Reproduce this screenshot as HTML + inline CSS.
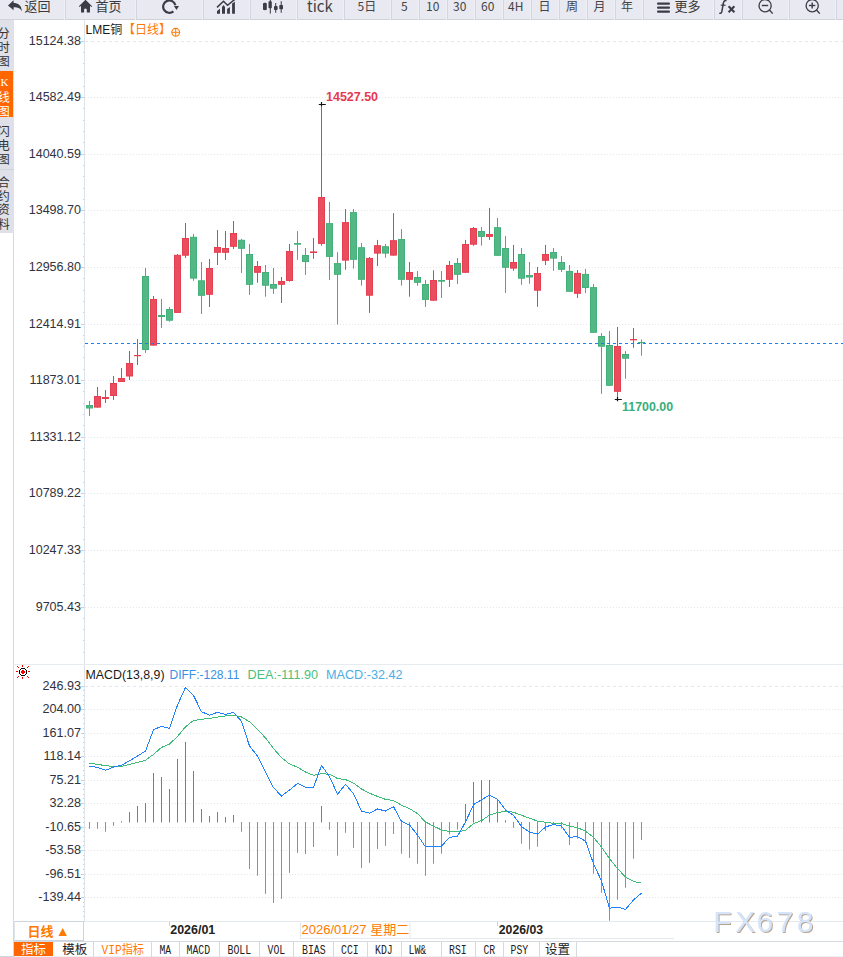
<!DOCTYPE html>
<html><head><meta charset="utf-8"><title>LME铜 日线</title>
<style>html,body{margin:0;padding:0;background:#fff;}body{width:843px;height:957px;position:relative;overflow:hidden;}</style>
</head><body>
<svg width="843" height="957" viewBox="0 0 843 957" style="position:absolute;left:0;top:0">
<rect x="0" y="0" width="843" height="20" fill="#eff0f5"/>
<rect x="0" y="0" width="64" height="20" fill="#e8e9f1"/>
<rect x="0" y="19" width="64" height="1" fill="#cfd2db"/>
<rect x="65" y="0" width="70" height="20" fill="#e8e9f1"/>
<rect x="65" y="0" width="1" height="20" fill="#d4d6df"/>
<rect x="65" y="19" width="70" height="1" fill="#cfd2db"/>
<rect x="136" y="0" width="66" height="20" fill="#e8e9f1"/>
<rect x="136" y="0" width="1" height="20" fill="#d4d6df"/>
<rect x="136" y="19" width="66" height="1" fill="#cfd2db"/>
<rect x="203" y="0" width="46" height="20" fill="#e8e9f1"/>
<rect x="203" y="0" width="1" height="20" fill="#d4d6df"/>
<rect x="203" y="19" width="46" height="1" fill="#cfd2db"/>
<rect x="250" y="0" width="46" height="20" fill="#e8e9f1"/>
<rect x="250" y="0" width="1" height="20" fill="#d4d6df"/>
<rect x="250" y="19" width="46" height="1" fill="#cfd2db"/>
<rect x="297" y="0" width="46" height="20" fill="#e8e9f1"/>
<rect x="297" y="0" width="1" height="20" fill="#d4d6df"/>
<rect x="297" y="19" width="46" height="1" fill="#cfd2db"/>
<rect x="344" y="0" width="46" height="20" fill="#e8e9f1"/>
<rect x="344" y="0" width="1" height="20" fill="#d4d6df"/>
<rect x="344" y="19" width="46" height="1" fill="#cfd2db"/>
<rect x="391" y="0" width="27" height="20" fill="#e8e9f1"/>
<rect x="391" y="0" width="1" height="20" fill="#d4d6df"/>
<rect x="391" y="19" width="27" height="1" fill="#cfd2db"/>
<rect x="419" y="0" width="27" height="20" fill="#e8e9f1"/>
<rect x="419" y="0" width="1" height="20" fill="#d4d6df"/>
<rect x="419" y="19" width="27" height="1" fill="#cfd2db"/>
<rect x="447" y="0" width="27" height="20" fill="#e8e9f1"/>
<rect x="447" y="0" width="1" height="20" fill="#d4d6df"/>
<rect x="447" y="19" width="27" height="1" fill="#cfd2db"/>
<rect x="475" y="0" width="27" height="20" fill="#e8e9f1"/>
<rect x="475" y="0" width="1" height="20" fill="#d4d6df"/>
<rect x="475" y="19" width="27" height="1" fill="#cfd2db"/>
<rect x="503" y="0" width="27" height="20" fill="#e8e9f1"/>
<rect x="503" y="0" width="1" height="20" fill="#d4d6df"/>
<rect x="503" y="19" width="27" height="1" fill="#cfd2db"/>
<rect x="531" y="0" width="27" height="20" fill="#e8e9f1"/>
<rect x="531" y="0" width="1" height="20" fill="#d4d6df"/>
<rect x="531" y="19" width="27" height="1" fill="#cfd2db"/>
<rect x="559" y="0" width="27" height="20" fill="#e8e9f1"/>
<rect x="559" y="0" width="1" height="20" fill="#d4d6df"/>
<rect x="559" y="19" width="27" height="1" fill="#cfd2db"/>
<rect x="587" y="0" width="27" height="20" fill="#e8e9f1"/>
<rect x="587" y="0" width="1" height="20" fill="#d4d6df"/>
<rect x="587" y="19" width="27" height="1" fill="#cfd2db"/>
<rect x="615" y="0" width="27" height="20" fill="#e8e9f1"/>
<rect x="615" y="0" width="1" height="20" fill="#d4d6df"/>
<rect x="615" y="19" width="27" height="1" fill="#cfd2db"/>
<rect x="643" y="0" width="70" height="20" fill="#e8e9f1"/>
<rect x="643" y="0" width="1" height="20" fill="#d4d6df"/>
<rect x="643" y="19" width="70" height="1" fill="#cfd2db"/>
<rect x="714" y="0" width="27" height="20" fill="#e8e9f1"/>
<rect x="714" y="0" width="1" height="20" fill="#d4d6df"/>
<rect x="714" y="19" width="27" height="1" fill="#cfd2db"/>
<rect x="742" y="0" width="46" height="20" fill="#e8e9f1"/>
<rect x="742" y="0" width="1" height="20" fill="#d4d6df"/>
<rect x="742" y="19" width="46" height="1" fill="#cfd2db"/>
<rect x="789" y="0" width="46" height="20" fill="#e8e9f1"/>
<rect x="789" y="0" width="1" height="20" fill="#d4d6df"/>
<rect x="789" y="19" width="46" height="1" fill="#cfd2db"/>
<rect x="836" y="0" width="63" height="20" fill="#e8e9f1"/>
<rect x="836" y="0" width="1" height="20" fill="#d4d6df"/>
<rect x="836" y="19" width="63" height="1" fill="#cfd2db"/>
<path d="M8 5.4 L13.6 0.2 L13.6 3.1 C17.8 3.1 21.9 5.2 21.8 11.8 C20.6 8.4 18.4 7.3 13.6 7.3 L13.6 10.3 Z" fill="#3a3d45"/>
<path d="M85.5 -0.3 L78.9 6.3 L79.6 7 L81 5.8 L81 12.6 L84.1 12.6 L84.1 9.2 Q85.45 7.9 86.8 9.2 L86.8 12.6 L90 12.6 L90 5.8 L91.4 7 L92.1 6.3 Z" fill="#3a3d45"/>
<path d="M173.4 11.35 A6.2 6.2 0 1 1 175.4 5.2" fill="none" stroke="#3a3d45" stroke-width="2.2"/>
<path d="M173.9 5.9 L179 5.9 L176.5 9.9 Z" fill="#3a3d45"/>
<path d="M217 13.8 V11 L220 8.8 V13.8 Z M222 13.8 V7 L223.5 5 L225 7 V13.8 Z M227.1 13.8 V9 L229.9 7 V13.8 Z M232.1 13.8 V3.6 L234.9 1.8 V13.8 Z" fill="#3a3d45"/>
<path d="M217 7.4 L223.5 1.3 L227.5 5.3 L234.8 -0.6" fill="none" stroke="#3a3d45" stroke-width="1.5"/>
<rect x="264.5" y="2.6" width="1" height="7.6" fill="#3a3d45"/>
<rect x="263" y="3" width="3.8000000000000114" height="7" rx="0.7" fill="#3a3d45"/>
<rect x="269.8" y="-1" width="1" height="14.6" fill="#3a3d45"/>
<rect x="268.5" y="1.3" width="3.3000000000000114" height="7.000000000000001" rx="0.7" fill="#3a3d45"/>
<rect x="275.2" y="3" width="1" height="9.8" fill="#3a3d45"/>
<rect x="274" y="6" width="3.6000000000000227" height="4" rx="0.7" fill="#3a3d45"/>
<rect x="280.7" y="1.2" width="1" height="11.600000000000001" fill="#3a3d45"/>
<rect x="279.3" y="5" width="3.6999999999999886" height="4.300000000000001" rx="0.7" fill="#3a3d45"/>
<rect x="657" y="2.5" width="13" height="2.2" rx="1" fill="#3a3d45"/>
<rect x="657" y="6.5" width="13" height="2.2" rx="1" fill="#3a3d45"/>
<rect x="657" y="10.5" width="13" height="2.2" rx="1" fill="#3a3d45"/>
<path d="M726.6 0.6 C724.6 0.2 723.6 1.4 723.3 3.5 L721.9 11.3 C721.6 13 720.6 13.6 719.3 13.2" fill="none" stroke="#3a3d45" stroke-width="1.5"/>
<path d="M720.8 5.2 H725.6" stroke="#3a3d45" stroke-width="1.2"/>
<path d="M728.6 6.2 L734.4 12.2 M734.4 6.2 L728.6 12.2" stroke="#3a3d45" stroke-width="2"/>
<circle cx="765.1" cy="5.7" r="6.1" fill="none" stroke="#3a3d45" stroke-width="1.3"/>
<path d="M769.4 10 L772.7 13.6" stroke="#3a3d45" stroke-width="1.4"/>
<path d="M761.8000000000001 5.5 L768.2 5.5" stroke="#3a3d45" stroke-width="1.4"/>
<circle cx="812.2" cy="5.7" r="6.1" fill="none" stroke="#3a3d45" stroke-width="1.3"/>
<path d="M816.5 10 L819.8000000000001 13.6" stroke="#3a3d45" stroke-width="1.4"/>
<path d="M808.9000000000001 5.5 L815.3000000000001 5.5" stroke="#3a3d45" stroke-width="1.4"/>
<path d="M812.2 2.4 L812.2 8.6" stroke="#3a3d45" stroke-width="1.4"/>
<text x="24.5" y="11.3" font-family="'Noto Sans CJK SC', 'Liberation Sans', sans-serif" font-size="13" fill="#3a3a3a" text-anchor="start" font-weight="normal" >返回</text>
<text x="95.5" y="11.3" font-family="'Noto Sans CJK SC', 'Liberation Sans', sans-serif" font-size="13" fill="#3a3a3a" text-anchor="start" font-weight="normal" >首页</text>
<text x="307" y="11.7" font-family="'Noto Sans CJK SC', 'Liberation Sans', sans-serif" font-size="15" fill="#444" text-anchor="start" font-weight="normal" >tick</text>
<text x="357.5" y="10.8" font-family="'Noto Sans CJK SC', 'Liberation Sans', sans-serif" font-size="12" fill="#444" text-anchor="start" font-weight="normal" >5日</text>
<text x="401" y="10.8" font-family="'Noto Sans CJK SC', 'Liberation Sans', sans-serif" font-size="12" fill="#444" text-anchor="start" font-weight="normal" >5</text>
<text x="426" y="10.8" font-family="'Noto Sans CJK SC', 'Liberation Sans', sans-serif" font-size="12" fill="#444" text-anchor="start" font-weight="normal" >10</text>
<text x="453" y="10.8" font-family="'Noto Sans CJK SC', 'Liberation Sans', sans-serif" font-size="12" fill="#444" text-anchor="start" font-weight="normal" >30</text>
<text x="481" y="10.8" font-family="'Noto Sans CJK SC', 'Liberation Sans', sans-serif" font-size="12" fill="#444" text-anchor="start" font-weight="normal" >60</text>
<text x="508" y="10.8" font-family="'Noto Sans CJK SC', 'Liberation Sans', sans-serif" font-size="12" fill="#444" text-anchor="start" font-weight="normal" >4H</text>
<text x="538.5" y="11" font-family="'Noto Sans CJK SC', 'Liberation Sans', sans-serif" font-size="12" fill="#444" text-anchor="start" font-weight="normal" >日</text>
<text x="566" y="11" font-family="'Noto Sans CJK SC', 'Liberation Sans', sans-serif" font-size="12" fill="#444" text-anchor="start" font-weight="normal" >周</text>
<text x="593.5" y="11" font-family="'Noto Sans CJK SC', 'Liberation Sans', sans-serif" font-size="12" fill="#444" text-anchor="start" font-weight="normal" >月</text>
<text x="621" y="11" font-family="'Noto Sans CJK SC', 'Liberation Sans', sans-serif" font-size="12" fill="#444" text-anchor="start" font-weight="normal" >年</text>
<text x="674.5" y="11.3" font-family="'Noto Sans CJK SC', 'Liberation Sans', sans-serif" font-size="13" fill="#3a3a3a" text-anchor="start" font-weight="normal" >更多</text>
<rect x="0" y="20" width="14" height="213" fill="#dfe0e8"/>
<rect x="0" y="71" width="13" height="46" fill="#ff6600"/>
<rect x="0" y="169" width="14" height="1" fill="#cfd5de"/>
<rect x="13" y="233" width="1" height="724" fill="#d3d8e0"/>
<text x="-2.2" y="38" font-family="'Noto Sans CJK SC', 'Liberation Sans', sans-serif" font-size="12" fill="#333" text-anchor="start" font-weight="normal" >分</text>
<text x="-2.2" y="52" font-family="'Noto Sans CJK SC', 'Liberation Sans', sans-serif" font-size="12" fill="#333" text-anchor="start" font-weight="normal" >时</text>
<text x="-2.2" y="66" font-family="'Noto Sans CJK SC', 'Liberation Sans', sans-serif" font-size="12" fill="#333" text-anchor="start" font-weight="normal" >图</text>
<text x="-2.2" y="101.5" font-family="'Noto Sans CJK SC', 'Liberation Sans', sans-serif" font-size="12" fill="#fff" text-anchor="start" font-weight="normal" >线</text>
<text x="-2.2" y="115.5" font-family="'Noto Sans CJK SC', 'Liberation Sans', sans-serif" font-size="12" fill="#fff" text-anchor="start" font-weight="normal" >图</text>
<text x="-2.2" y="136" font-family="'Noto Sans CJK SC', 'Liberation Sans', sans-serif" font-size="12" fill="#333" text-anchor="start" font-weight="normal" >闪</text>
<text x="-2.2" y="150" font-family="'Noto Sans CJK SC', 'Liberation Sans', sans-serif" font-size="12" fill="#333" text-anchor="start" font-weight="normal" >电</text>
<text x="-2.2" y="164" font-family="'Noto Sans CJK SC', 'Liberation Sans', sans-serif" font-size="12" fill="#333" text-anchor="start" font-weight="normal" >图</text>
<text x="-2.2" y="187" font-family="'Noto Sans CJK SC', 'Liberation Sans', sans-serif" font-size="12" fill="#333" text-anchor="start" font-weight="normal" >合</text>
<text x="-2.2" y="200.5" font-family="'Noto Sans CJK SC', 'Liberation Sans', sans-serif" font-size="12" fill="#333" text-anchor="start" font-weight="normal" >约</text>
<text x="-2.2" y="214" font-family="'Noto Sans CJK SC', 'Liberation Sans', sans-serif" font-size="12" fill="#333" text-anchor="start" font-weight="normal" >资</text>
<text x="-2.2" y="228.5" font-family="'Noto Sans CJK SC', 'Liberation Sans', sans-serif" font-size="12" fill="#333" text-anchor="start" font-weight="normal" >料</text>
<text x="0.5" y="86" font-family="'Liberation Serif', serif" font-size="11" fill="#fff" text-anchor="start" font-weight="normal" >K</text>
<rect x="84" y="20" width="1" height="901" fill="#dde3ea"/>
<line x1="85" y1="41.5" x2="843" y2="41.5" stroke="#e3e8ee" stroke-width="1" stroke-dasharray="3 3"/>
<rect x="81" y="41" width="3" height="1" fill="#c9d0d9"/>
<text x="81" y="45" font-family="'Liberation Sans', 'Noto Sans CJK SC', sans-serif" font-size="12" fill="#2f3240" text-anchor="end" font-weight="normal"  textLength="52.3" lengthAdjust="spacingAndGlyphs">15124.38</text>
<line x1="85" y1="97.5" x2="843" y2="97.5" stroke="#e3e8ee" stroke-width="1" stroke-dasharray="1 2"/>
<rect x="81" y="97" width="3" height="1" fill="#c9d0d9"/>
<text x="81" y="101" font-family="'Liberation Sans', 'Noto Sans CJK SC', sans-serif" font-size="12" fill="#2f3240" text-anchor="end" font-weight="normal"  textLength="52.3" lengthAdjust="spacingAndGlyphs">14582.49</text>
<line x1="85" y1="154.5" x2="843" y2="154.5" stroke="#e3e8ee" stroke-width="1" stroke-dasharray="1 2"/>
<rect x="81" y="154" width="3" height="1" fill="#c9d0d9"/>
<text x="81" y="158" font-family="'Liberation Sans', 'Noto Sans CJK SC', sans-serif" font-size="12" fill="#2f3240" text-anchor="end" font-weight="normal"  textLength="52.3" lengthAdjust="spacingAndGlyphs">14040.59</text>
<line x1="85" y1="210.5" x2="843" y2="210.5" stroke="#e3e8ee" stroke-width="1" stroke-dasharray="1 2"/>
<rect x="81" y="210" width="3" height="1" fill="#c9d0d9"/>
<text x="81" y="214" font-family="'Liberation Sans', 'Noto Sans CJK SC', sans-serif" font-size="12" fill="#2f3240" text-anchor="end" font-weight="normal"  textLength="52.3" lengthAdjust="spacingAndGlyphs">13498.70</text>
<line x1="85" y1="267.5" x2="843" y2="267.5" stroke="#e3e8ee" stroke-width="1" stroke-dasharray="1 2"/>
<rect x="81" y="267" width="3" height="1" fill="#c9d0d9"/>
<text x="81" y="271" font-family="'Liberation Sans', 'Noto Sans CJK SC', sans-serif" font-size="12" fill="#2f3240" text-anchor="end" font-weight="normal"  textLength="52.3" lengthAdjust="spacingAndGlyphs">12956.80</text>
<line x1="85" y1="324.5" x2="843" y2="324.5" stroke="#e3e8ee" stroke-width="1" stroke-dasharray="1 2"/>
<rect x="81" y="324" width="3" height="1" fill="#c9d0d9"/>
<text x="81" y="328" font-family="'Liberation Sans', 'Noto Sans CJK SC', sans-serif" font-size="12" fill="#2f3240" text-anchor="end" font-weight="normal"  textLength="52.3" lengthAdjust="spacingAndGlyphs">12414.91</text>
<line x1="85" y1="380.5" x2="843" y2="380.5" stroke="#e3e8ee" stroke-width="1" stroke-dasharray="1 2"/>
<rect x="81" y="380" width="3" height="1" fill="#c9d0d9"/>
<text x="81" y="384" font-family="'Liberation Sans', 'Noto Sans CJK SC', sans-serif" font-size="12" fill="#2f3240" text-anchor="end" font-weight="normal"  textLength="51.37" lengthAdjust="spacingAndGlyphs">11873.01</text>
<line x1="85" y1="437.5" x2="843" y2="437.5" stroke="#e3e8ee" stroke-width="1" stroke-dasharray="1 2"/>
<rect x="81" y="437" width="3" height="1" fill="#c9d0d9"/>
<text x="81" y="441" font-family="'Liberation Sans', 'Noto Sans CJK SC', sans-serif" font-size="12" fill="#2f3240" text-anchor="end" font-weight="normal"  textLength="51.37" lengthAdjust="spacingAndGlyphs">11331.12</text>
<line x1="85" y1="493.5" x2="843" y2="493.5" stroke="#e3e8ee" stroke-width="1" stroke-dasharray="1 2"/>
<rect x="81" y="493" width="3" height="1" fill="#c9d0d9"/>
<text x="81" y="497" font-family="'Liberation Sans', 'Noto Sans CJK SC', sans-serif" font-size="12" fill="#2f3240" text-anchor="end" font-weight="normal"  textLength="52.3" lengthAdjust="spacingAndGlyphs">10789.22</text>
<line x1="85" y1="550.5" x2="843" y2="550.5" stroke="#e3e8ee" stroke-width="1" stroke-dasharray="1 2"/>
<rect x="81" y="550" width="3" height="1" fill="#c9d0d9"/>
<text x="81" y="554" font-family="'Liberation Sans', 'Noto Sans CJK SC', sans-serif" font-size="12" fill="#2f3240" text-anchor="end" font-weight="normal"  textLength="52.3" lengthAdjust="spacingAndGlyphs">10247.33</text>
<line x1="85" y1="607.5" x2="843" y2="607.5" stroke="#e3e8ee" stroke-width="1" stroke-dasharray="1 2"/>
<rect x="81" y="607" width="3" height="1" fill="#c9d0d9"/>
<text x="81" y="611" font-family="'Liberation Sans', 'Noto Sans CJK SC', sans-serif" font-size="12" fill="#2f3240" text-anchor="end" font-weight="normal"  textLength="45.33" lengthAdjust="spacingAndGlyphs">9705.43</text>
<rect x="83" y="52" width="1" height="1" fill="#c9d0d9"/>
<rect x="83" y="63" width="1" height="1" fill="#c9d0d9"/>
<rect x="83" y="74" width="1" height="1" fill="#c9d0d9"/>
<rect x="83" y="86" width="1" height="1" fill="#c9d0d9"/>
<rect x="83" y="108" width="1" height="1" fill="#c9d0d9"/>
<rect x="83" y="120" width="1" height="1" fill="#c9d0d9"/>
<rect x="83" y="131" width="1" height="1" fill="#c9d0d9"/>
<rect x="83" y="142" width="1" height="1" fill="#c9d0d9"/>
<rect x="83" y="165" width="1" height="1" fill="#c9d0d9"/>
<rect x="83" y="176" width="1" height="1" fill="#c9d0d9"/>
<rect x="83" y="188" width="1" height="1" fill="#c9d0d9"/>
<rect x="83" y="199" width="1" height="1" fill="#c9d0d9"/>
<rect x="83" y="222" width="1" height="1" fill="#c9d0d9"/>
<rect x="83" y="233" width="1" height="1" fill="#c9d0d9"/>
<rect x="83" y="244" width="1" height="1" fill="#c9d0d9"/>
<rect x="83" y="256" width="1" height="1" fill="#c9d0d9"/>
<rect x="83" y="278" width="1" height="1" fill="#c9d0d9"/>
<rect x="83" y="290" width="1" height="1" fill="#c9d0d9"/>
<rect x="83" y="301" width="1" height="1" fill="#c9d0d9"/>
<rect x="83" y="312" width="1" height="1" fill="#c9d0d9"/>
<rect x="83" y="335" width="1" height="1" fill="#c9d0d9"/>
<rect x="83" y="346" width="1" height="1" fill="#c9d0d9"/>
<rect x="83" y="357" width="1" height="1" fill="#c9d0d9"/>
<rect x="83" y="369" width="1" height="1" fill="#c9d0d9"/>
<rect x="83" y="391" width="1" height="1" fill="#c9d0d9"/>
<rect x="83" y="403" width="1" height="1" fill="#c9d0d9"/>
<rect x="83" y="414" width="1" height="1" fill="#c9d0d9"/>
<rect x="83" y="425" width="1" height="1" fill="#c9d0d9"/>
<rect x="83" y="448" width="1" height="1" fill="#c9d0d9"/>
<rect x="83" y="459" width="1" height="1" fill="#c9d0d9"/>
<rect x="83" y="471" width="1" height="1" fill="#c9d0d9"/>
<rect x="83" y="482" width="1" height="1" fill="#c9d0d9"/>
<rect x="83" y="505" width="1" height="1" fill="#c9d0d9"/>
<rect x="83" y="516" width="1" height="1" fill="#c9d0d9"/>
<rect x="83" y="527" width="1" height="1" fill="#c9d0d9"/>
<rect x="83" y="539" width="1" height="1" fill="#c9d0d9"/>
<rect x="83" y="561" width="1" height="1" fill="#c9d0d9"/>
<rect x="83" y="573" width="1" height="1" fill="#c9d0d9"/>
<rect x="83" y="584" width="1" height="1" fill="#c9d0d9"/>
<rect x="83" y="595" width="1" height="1" fill="#c9d0d9"/>
<rect x="83" y="618" width="1" height="1" fill="#c9d0d9"/>
<rect x="83" y="629" width="1" height="1" fill="#c9d0d9"/>
<rect x="83" y="640" width="1" height="1" fill="#c9d0d9"/>
<rect x="83" y="652" width="1" height="1" fill="#c9d0d9"/>
<text x="85.5" y="34.3" font-family="'Liberation Sans', 'Noto Sans CJK SC', sans-serif" font-size="12" fill="#1a1a1a" text-anchor="start" font-weight="normal" >LME铜</text>
<text x="123" y="34.3" font-family="'Noto Sans CJK SC', 'Liberation Sans', sans-serif" font-size="12" fill="#ff7a00" text-anchor="start" font-weight="normal" >【日线】</text>
<circle cx="175.7" cy="32.3" r="3.9" fill="none" stroke="#ff7a00" stroke-width="1.1"/>
<path d="M171.8 32.3 H179.6 M175.7 28.4 V36.2" stroke="#ff7a00" stroke-width="1"/>
<rect x="89" y="401" width="1" height="15" fill="#44b079"/>
<rect x="86.5" y="405.5" width="6" height="2.5" fill="#54b886" stroke="#44b079" stroke-width="1"/>
<rect x="97" y="387" width="1" height="20.600000000000023" fill="#e53f52"/>
<rect x="94.5" y="396.5" width="6" height="10.600000000000023" fill="#ea4d5e" stroke="#e53f52" stroke-width="1"/>
<rect x="105" y="390" width="1" height="13" fill="#e53f52"/>
<rect x="102" y="397" width="7" height="2" fill="#e53f52"/>
<rect x="113" y="376" width="1" height="24" fill="#e53f52"/>
<rect x="110.5" y="383.5" width="6" height="12" fill="#ea4d5e" stroke="#e53f52" stroke-width="1"/>
<rect x="121" y="368" width="1" height="14" fill="#e53f52"/>
<rect x="118.5" y="378.5" width="6" height="3" fill="#ea4d5e" stroke="#e53f52" stroke-width="1"/>
<rect x="129" y="351" width="1" height="29" fill="#e53f52"/>
<rect x="126.5" y="363.5" width="6" height="12.5" fill="#ea4d5e" stroke="#e53f52" stroke-width="1"/>
<rect x="137" y="339" width="1" height="26" fill="#e53f52"/>
<rect x="134" y="355" width="7" height="1.2" fill="#e53f52"/>
<rect x="145" y="268" width="1" height="85" fill="#44b079"/>
<rect x="142.5" y="276.5" width="6" height="73" fill="#54b886" stroke="#44b079" stroke-width="1"/>
<rect x="153" y="296" width="1" height="49.60000000000002" fill="#e53f52"/>
<rect x="150.5" y="299.5" width="6" height="45.60000000000002" fill="#ea4d5e" stroke="#e53f52" stroke-width="1"/>
<rect x="161" y="299" width="1" height="29" fill="#44b079"/>
<rect x="158" y="315" width="7" height="2" fill="#44b079"/>
<rect x="169" y="307" width="1" height="14.699999999999989" fill="#44b079"/>
<rect x="166.5" y="309.5" width="6" height="10.699999999999989" fill="#54b886" stroke="#44b079" stroke-width="1"/>
<rect x="177" y="254" width="1" height="58.89999999999998" fill="#e53f52"/>
<rect x="174.5" y="255.3" width="6" height="57.099999999999966" fill="#ea4d5e" stroke="#e53f52" stroke-width="1"/>
<rect x="185" y="223" width="1" height="35" fill="#e53f52"/>
<rect x="182.5" y="238.5" width="6" height="16.69999999999999" fill="#ea4d5e" stroke="#e53f52" stroke-width="1"/>
<rect x="193" y="234" width="1" height="46.80000000000001" fill="#44b079"/>
<rect x="190.5" y="237.3" width="6" height="40.80000000000001" fill="#54b886" stroke="#44b079" stroke-width="1"/>
<rect x="201" y="262" width="1" height="51.89999999999998" fill="#44b079"/>
<rect x="198.5" y="280.8" width="6" height="14.5" fill="#54b886" stroke="#44b079" stroke-width="1"/>
<rect x="209" y="259" width="1" height="48" fill="#e53f52"/>
<rect x="206.5" y="268.5" width="6" height="25.80000000000001" fill="#ea4d5e" stroke="#e53f52" stroke-width="1"/>
<rect x="217" y="230" width="1" height="35" fill="#e53f52"/>
<rect x="214.5" y="247.5" width="6" height="4.800000000000011" fill="#ea4d5e" stroke="#e53f52" stroke-width="1"/>
<rect x="225" y="231" width="1" height="29" fill="#e53f52"/>
<rect x="222.5" y="248.5" width="6" height="3.8000000000000114" fill="#ea4d5e" stroke="#e53f52" stroke-width="1"/>
<rect x="233" y="221" width="1" height="28" fill="#e53f52"/>
<rect x="230.5" y="233.5" width="6" height="12.800000000000011" fill="#ea4d5e" stroke="#e53f52" stroke-width="1"/>
<rect x="241" y="238.8" width="1" height="34.19999999999999" fill="#44b079"/>
<rect x="238.5" y="240.3" width="6" height="8.0" fill="#54b886" stroke="#44b079" stroke-width="1"/>
<rect x="249" y="244" width="1" height="50.89999999999998" fill="#44b079"/>
<rect x="246.5" y="254.5" width="6" height="29.80000000000001" fill="#54b886" stroke="#44b079" stroke-width="1"/>
<rect x="257" y="261" width="1" height="21.80000000000001" fill="#e53f52"/>
<rect x="254.5" y="266.5" width="6" height="5.800000000000011" fill="#ea4d5e" stroke="#e53f52" stroke-width="1"/>
<rect x="265" y="265" width="1" height="31.69999999999999" fill="#44b079"/>
<rect x="262.5" y="272.5" width="6" height="12.699999999999989" fill="#54b886" stroke="#44b079" stroke-width="1"/>
<rect x="273" y="268" width="1" height="25.899999999999977" fill="#44b079"/>
<rect x="270.5" y="284.5" width="6" height="3.6999999999999886" fill="#54b886" stroke="#44b079" stroke-width="1"/>
<rect x="281" y="277" width="1" height="26" fill="#e53f52"/>
<rect x="278.5" y="281.5" width="6" height="2.8000000000000114" fill="#ea4d5e" stroke="#e53f52" stroke-width="1"/>
<rect x="289" y="244" width="1" height="37.69999999999999" fill="#e53f52"/>
<rect x="286.5" y="251.5" width="6" height="29" fill="#ea4d5e" stroke="#e53f52" stroke-width="1"/>
<rect x="297" y="231" width="1" height="28.80000000000001" fill="#44b079"/>
<rect x="294" y="243" width="7" height="1.6999999999999886" fill="#44b079"/>
<rect x="305" y="248" width="1" height="27" fill="#44b079"/>
<rect x="302.5" y="255.5" width="6" height="6" fill="#54b886" stroke="#44b079" stroke-width="1"/>
<rect x="313" y="238" width="1" height="20.80000000000001" fill="#e53f52"/>
<rect x="310" y="251.4" width="7" height="1.5999999999999943" fill="#e53f52"/>
<rect x="321" y="103" width="1" height="142.7" fill="#e53f52"/>
<rect x="318.5" y="197.5" width="6" height="45.900000000000006" fill="#ea4d5e" stroke="#e53f52" stroke-width="1"/>
<rect x="329" y="201.9" width="1" height="78.1" fill="#44b079"/>
<rect x="326.5" y="223.6" width="6" height="32.79999999999998" fill="#54b886" stroke="#44b079" stroke-width="1"/>
<rect x="337" y="252.2" width="1" height="72.40000000000003" fill="#44b079"/>
<rect x="334.5" y="263.6" width="6" height="10.699999999999989" fill="#54b886" stroke="#44b079" stroke-width="1"/>
<rect x="345" y="209" width="1" height="60.80000000000001" fill="#e53f52"/>
<rect x="342.5" y="222.6" width="6" height="37.50000000000003" fill="#ea4d5e" stroke="#e53f52" stroke-width="1"/>
<rect x="353" y="209" width="1" height="59.60000000000002" fill="#44b079"/>
<rect x="350.5" y="212.6" width="6" height="46.70000000000002" fill="#54b886" stroke="#44b079" stroke-width="1"/>
<rect x="361" y="243" width="1" height="42.69999999999999" fill="#44b079"/>
<rect x="358.5" y="247.7" width="6" height="31.600000000000023" fill="#54b886" stroke="#44b079" stroke-width="1"/>
<rect x="369" y="257" width="1" height="55.89999999999998" fill="#e53f52"/>
<rect x="366.5" y="258.4" width="6" height="36.80000000000001" fill="#ea4d5e" stroke="#e53f52" stroke-width="1"/>
<rect x="377" y="239.9" width="1" height="26.200000000000017" fill="#e53f52"/>
<rect x="374.5" y="245.7" width="6" height="7.400000000000006" fill="#ea4d5e" stroke="#e53f52" stroke-width="1"/>
<rect x="385" y="244" width="1" height="13.800000000000011" fill="#44b079"/>
<rect x="382.5" y="246.7" width="6" height="6.400000000000006" fill="#54b886" stroke="#44b079" stroke-width="1"/>
<rect x="393" y="213.1" width="1" height="42.5" fill="#e53f52"/>
<rect x="390.5" y="240.7" width="6" height="14.400000000000006" fill="#ea4d5e" stroke="#e53f52" stroke-width="1"/>
<rect x="401" y="229" width="1" height="56.69999999999999" fill="#44b079"/>
<rect x="398.5" y="239.5" width="6" height="39.80000000000001" fill="#54b886" stroke="#44b079" stroke-width="1"/>
<rect x="409" y="262" width="1" height="34.69999999999999" fill="#e53f52"/>
<rect x="406.5" y="272.5" width="6" height="6.800000000000011" fill="#ea4d5e" stroke="#e53f52" stroke-width="1"/>
<rect x="417" y="271" width="1" height="14.699999999999989" fill="#44b079"/>
<rect x="414.5" y="277.5" width="6" height="4.800000000000011" fill="#54b886" stroke="#44b079" stroke-width="1"/>
<rect x="425" y="280" width="1" height="27" fill="#44b079"/>
<rect x="422.5" y="284.5" width="6" height="14.899999999999977" fill="#54b886" stroke="#44b079" stroke-width="1"/>
<rect x="433" y="270.3" width="1" height="30.399999999999977" fill="#e53f52"/>
<rect x="430.5" y="280.5" width="6" height="19.69999999999999" fill="#ea4d5e" stroke="#e53f52" stroke-width="1"/>
<rect x="441" y="271" width="1" height="26.899999999999977" fill="#44b079"/>
<rect x="438" y="280" width="7" height="1.6999999999999886" fill="#44b079"/>
<rect x="449" y="261" width="1" height="26" fill="#e53f52"/>
<rect x="446.5" y="265.5" width="6" height="13.800000000000011" fill="#ea4d5e" stroke="#e53f52" stroke-width="1"/>
<rect x="457" y="258" width="1" height="26" fill="#44b079"/>
<rect x="454.5" y="263.5" width="6" height="10.800000000000011" fill="#54b886" stroke="#44b079" stroke-width="1"/>
<rect x="465" y="239.9" width="1" height="32.900000000000006" fill="#e53f52"/>
<rect x="462.5" y="244.5" width="6" height="27.80000000000001" fill="#ea4d5e" stroke="#e53f52" stroke-width="1"/>
<rect x="473" y="227" width="1" height="18.69999999999999" fill="#e53f52"/>
<rect x="470.5" y="228.5" width="6" height="15.699999999999989" fill="#ea4d5e" stroke="#e53f52" stroke-width="1"/>
<rect x="481" y="227" width="1" height="18.69999999999999" fill="#44b079"/>
<rect x="478.5" y="231.5" width="6" height="4.900000000000006" fill="#54b886" stroke="#44b079" stroke-width="1"/>
<rect x="489" y="207.9" width="1" height="32.0" fill="#e53f52"/>
<rect x="486.5" y="234.5" width="6" height="1.9000000000000057" fill="#ea4d5e" stroke="#e53f52" stroke-width="1"/>
<rect x="497" y="218" width="1" height="37.80000000000001" fill="#44b079"/>
<rect x="494.5" y="227.7" width="6" height="27.600000000000023" fill="#54b886" stroke="#44b079" stroke-width="1"/>
<rect x="505" y="236" width="1" height="56.89999999999998" fill="#44b079"/>
<rect x="502.5" y="248.5" width="6" height="18.80000000000001" fill="#54b886" stroke="#44b079" stroke-width="1"/>
<rect x="513" y="244.9" width="1" height="25.900000000000006" fill="#e53f52"/>
<rect x="510.5" y="262.5" width="6" height="5.600000000000023" fill="#ea4d5e" stroke="#e53f52" stroke-width="1"/>
<rect x="521" y="248" width="1" height="36.80000000000001" fill="#44b079"/>
<rect x="518.5" y="254.5" width="6" height="23.69999999999999" fill="#54b886" stroke="#44b079" stroke-width="1"/>
<rect x="529" y="262" width="1" height="21.69999999999999" fill="#44b079"/>
<rect x="526.5" y="275.5" width="6" height="1.5" fill="#54b886" stroke="#44b079" stroke-width="1"/>
<rect x="537" y="267" width="1" height="39.80000000000001" fill="#e53f52"/>
<rect x="534.5" y="273.5" width="6" height="16.69999999999999" fill="#ea4d5e" stroke="#e53f52" stroke-width="1"/>
<rect x="545" y="244.9" width="1" height="20.099999999999994" fill="#e53f52"/>
<rect x="542.5" y="254.5" width="6" height="5.800000000000011" fill="#ea4d5e" stroke="#e53f52" stroke-width="1"/>
<rect x="553" y="248" width="1" height="22.80000000000001" fill="#44b079"/>
<rect x="550.5" y="252.5" width="6" height="5.600000000000023" fill="#54b886" stroke="#44b079" stroke-width="1"/>
<rect x="561" y="256" width="1" height="16" fill="#44b079"/>
<rect x="558.5" y="262.5" width="6" height="6.800000000000011" fill="#54b886" stroke="#44b079" stroke-width="1"/>
<rect x="569" y="265" width="1" height="26.80000000000001" fill="#44b079"/>
<rect x="566.5" y="271.4" width="6" height="19.900000000000034" fill="#54b886" stroke="#44b079" stroke-width="1"/>
<rect x="577" y="270" width="1" height="28" fill="#e53f52"/>
<rect x="574.5" y="273.4" width="6" height="19.900000000000034" fill="#ea4d5e" stroke="#e53f52" stroke-width="1"/>
<rect x="585" y="268.9" width="1" height="24.100000000000023" fill="#44b079"/>
<rect x="582.5" y="274.4" width="6" height="13.100000000000023" fill="#54b886" stroke="#44b079" stroke-width="1"/>
<rect x="593" y="284" width="1" height="48.80000000000001" fill="#44b079"/>
<rect x="590.5" y="287.6" width="6" height="44.69999999999999" fill="#54b886" stroke="#44b079" stroke-width="1"/>
<rect x="601" y="333" width="1" height="60.80000000000001" fill="#44b079"/>
<rect x="598.5" y="336.5" width="6" height="9.699999999999989" fill="#54b886" stroke="#44b079" stroke-width="1"/>
<rect x="609" y="331" width="1" height="54.80000000000001" fill="#44b079"/>
<rect x="606.5" y="345.5" width="6" height="39.80000000000001" fill="#54b886" stroke="#44b079" stroke-width="1"/>
<rect x="617" y="327" width="1" height="71.5" fill="#e53f52"/>
<rect x="614.5" y="346.5" width="6" height="44.80000000000001" fill="#ea4d5e" stroke="#e53f52" stroke-width="1"/>
<rect x="625" y="351" width="1" height="27.80000000000001" fill="#44b079"/>
<rect x="622.5" y="354.5" width="6" height="3.6999999999999886" fill="#54b886" stroke="#44b079" stroke-width="1"/>
<rect x="633" y="328" width="1" height="19.80000000000001" fill="#e53f52"/>
<rect x="630" y="339" width="7" height="1.3000000000000114" fill="#e53f52"/>
<rect x="641" y="339.5" width="1" height="16.19999999999999" fill="#44b079"/>
<rect x="638" y="342" width="7" height="1.2" fill="#44b079"/>
<line x1="85" y1="343.5" x2="843" y2="343.5" stroke="#1a7ff5" stroke-width="1" stroke-dasharray="3 3"/>
<path d="M318.8 104.5 H325.8 M321.5 102 V106.2" stroke="#111" stroke-width="1.2"/>
<text x="326" y="101" font-family="'Liberation Sans', 'Noto Sans CJK SC', sans-serif" font-size="12" fill="#e8384f" text-anchor="start" font-weight="bold"  textLength="52.05" lengthAdjust="spacingAndGlyphs">14527.50</text>
<path d="M614.8 399.5 H621.8 M617.5 397 V401.2" stroke="#111" stroke-width="1.2"/>
<text x="622" y="410.8" font-family="'Liberation Sans', 'Noto Sans CJK SC', sans-serif" font-size="12" fill="#3aae7c" text-anchor="start" font-weight="bold"  textLength="51.11" lengthAdjust="spacingAndGlyphs">11700.00</text>
<rect x="13" y="664" width="830" height="1" fill="#e6ebf0"/>
<rect x="21" y="668" width="1" height="1" fill="#000"/>
<rect x="21" y="675" width="1" height="1" fill="#000"/>
<rect x="22" y="668" width="1" height="1" fill="#000"/>
<rect x="22" y="675" width="1" height="1" fill="#000"/>
<rect x="23" y="668" width="1" height="1" fill="#000"/>
<rect x="23" y="675" width="1" height="1" fill="#000"/>
<rect x="24" y="668" width="1" height="1" fill="#000"/>
<rect x="24" y="675" width="1" height="1" fill="#000"/>
<rect x="19" y="670" width="1" height="1" fill="#000"/>
<rect x="26" y="670" width="1" height="1" fill="#000"/>
<rect x="19" y="671" width="1" height="1" fill="#000"/>
<rect x="26" y="671" width="1" height="1" fill="#000"/>
<rect x="19" y="672" width="1" height="1" fill="#000"/>
<rect x="26" y="672" width="1" height="1" fill="#000"/>
<rect x="19" y="673" width="1" height="1" fill="#000"/>
<rect x="26" y="673" width="1" height="1" fill="#000"/>
<rect x="20" y="669" width="1" height="1" fill="#000"/>
<rect x="25" y="669" width="1" height="1" fill="#000"/>
<rect x="20" y="674" width="1" height="1" fill="#000"/>
<rect x="25" y="674" width="1" height="1" fill="#000"/>
<rect x="21" y="671" width="1" height="1" fill="#f00"/>
<rect x="21" y="672" width="1" height="1" fill="#f00"/>
<rect x="22" y="670" width="1" height="1" fill="#f00"/>
<rect x="22" y="671" width="1" height="1" fill="#f00"/>
<rect x="22" y="672" width="1" height="1" fill="#f00"/>
<rect x="22" y="673" width="1" height="1" fill="#f00"/>
<rect x="23" y="670" width="1" height="1" fill="#f00"/>
<rect x="23" y="671" width="1" height="1" fill="#f00"/>
<rect x="23" y="672" width="1" height="1" fill="#f00"/>
<rect x="23" y="673" width="1" height="1" fill="#f00"/>
<rect x="24" y="671" width="1" height="1" fill="#f00"/>
<rect x="24" y="672" width="1" height="1" fill="#f00"/>
<rect x="22" y="665" width="1" height="1" fill="#f00"/>
<rect x="22" y="666" width="1" height="1" fill="#f00"/>
<rect x="22" y="677" width="1" height="1" fill="#f00"/>
<rect x="22" y="678" width="1" height="1" fill="#f00"/>
<rect x="16" y="671" width="1" height="1" fill="#f00"/>
<rect x="17" y="671" width="1" height="1" fill="#f00"/>
<rect x="28" y="671" width="1" height="1" fill="#f00"/>
<rect x="29" y="671" width="1" height="1" fill="#f00"/>
<rect x="17" y="666" width="1" height="1" fill="#f00"/>
<rect x="18" y="667" width="1" height="1" fill="#f00"/>
<rect x="28" y="666" width="1" height="1" fill="#f00"/>
<rect x="27" y="667" width="1" height="1" fill="#f00"/>
<rect x="18" y="676" width="1" height="1" fill="#f00"/>
<rect x="17" y="677" width="1" height="1" fill="#f00"/>
<rect x="27" y="676" width="1" height="1" fill="#f00"/>
<rect x="28" y="677" width="1" height="1" fill="#f00"/>
<text x="85.5" y="679" font-family="'Liberation Sans', 'Noto Sans CJK SC', sans-serif" font-size="12" fill="#1a1a1a" text-anchor="start" font-weight="normal"  textLength="79" lengthAdjust="spacingAndGlyphs">MACD(13,8,9)</text>
<text x="169.5" y="679" font-family="'Liberation Sans', 'Noto Sans CJK SC', sans-serif" font-size="12" fill="#3a8ee6" text-anchor="start" font-weight="normal" >DIFF:-128.11</text>
<text x="247.5" y="679" font-family="'Liberation Sans', 'Noto Sans CJK SC', sans-serif" font-size="12" fill="#4cc07a" text-anchor="start" font-weight="normal"  textLength="70.5" lengthAdjust="spacingAndGlyphs">DEA:-111.90</text>
<text x="326" y="679" font-family="'Liberation Sans', 'Noto Sans CJK SC', sans-serif" font-size="12" fill="#4aaee6" text-anchor="start" font-weight="normal"  textLength="76.5" lengthAdjust="spacingAndGlyphs">MACD:-32.42</text>
<line x1="85" y1="686.5" x2="843" y2="686.5" stroke="#e3e8ee" stroke-width="1" stroke-dasharray="3 3"/>
<rect x="81" y="686" width="3" height="1" fill="#c9d0d9"/>
<text x="81" y="689.7" font-family="'Liberation Sans', 'Noto Sans CJK SC', sans-serif" font-size="12" fill="#2f3240" text-anchor="end" font-weight="normal"  textLength="38.54" lengthAdjust="spacingAndGlyphs">246.93</text>
<rect x="83" y="690" width="1" height="1" fill="#c9d0d9"/>
<rect x="83" y="695" width="1" height="1" fill="#c9d0d9"/>
<rect x="83" y="700" width="1" height="1" fill="#c9d0d9"/>
<rect x="83" y="704" width="1" height="1" fill="#c9d0d9"/>
<line x1="85" y1="709.5" x2="843" y2="709.5" stroke="#e3e8ee" stroke-width="1" stroke-dasharray="1 2"/>
<rect x="81" y="709" width="3" height="1" fill="#c9d0d9"/>
<text x="81" y="712.7" font-family="'Liberation Sans', 'Noto Sans CJK SC', sans-serif" font-size="12" fill="#2f3240" text-anchor="end" font-weight="normal"  textLength="38.54" lengthAdjust="spacingAndGlyphs">204.00</text>
<rect x="83" y="714" width="1" height="1" fill="#c9d0d9"/>
<rect x="83" y="718" width="1" height="1" fill="#c9d0d9"/>
<rect x="83" y="723" width="1" height="1" fill="#c9d0d9"/>
<rect x="83" y="728" width="1" height="1" fill="#c9d0d9"/>
<line x1="85" y1="733.5" x2="843" y2="733.5" stroke="#e3e8ee" stroke-width="1" stroke-dasharray="1 2"/>
<rect x="81" y="733" width="3" height="1" fill="#c9d0d9"/>
<text x="81" y="736.7" font-family="'Liberation Sans', 'Noto Sans CJK SC', sans-serif" font-size="12" fill="#2f3240" text-anchor="end" font-weight="normal"  textLength="38.54" lengthAdjust="spacingAndGlyphs">161.07</text>
<rect x="83" y="737" width="1" height="1" fill="#c9d0d9"/>
<rect x="83" y="742" width="1" height="1" fill="#c9d0d9"/>
<rect x="83" y="747" width="1" height="1" fill="#c9d0d9"/>
<rect x="83" y="751" width="1" height="1" fill="#c9d0d9"/>
<line x1="85" y1="756.5" x2="843" y2="756.5" stroke="#e3e8ee" stroke-width="1" stroke-dasharray="1 2"/>
<rect x="81" y="756" width="3" height="1" fill="#c9d0d9"/>
<text x="81" y="759.7" font-family="'Liberation Sans', 'Noto Sans CJK SC', sans-serif" font-size="12" fill="#2f3240" text-anchor="end" font-weight="normal"  textLength="37.6" lengthAdjust="spacingAndGlyphs">118.14</text>
<rect x="83" y="761" width="1" height="1" fill="#c9d0d9"/>
<rect x="83" y="765" width="1" height="1" fill="#c9d0d9"/>
<rect x="83" y="770" width="1" height="1" fill="#c9d0d9"/>
<rect x="83" y="775" width="1" height="1" fill="#c9d0d9"/>
<line x1="85" y1="780.5" x2="843" y2="780.5" stroke="#e3e8ee" stroke-width="1" stroke-dasharray="1 2"/>
<rect x="81" y="780" width="3" height="1" fill="#c9d0d9"/>
<text x="81" y="783.7" font-family="'Liberation Sans', 'Noto Sans CJK SC', sans-serif" font-size="12" fill="#2f3240" text-anchor="end" font-weight="normal"  textLength="31.53" lengthAdjust="spacingAndGlyphs">75.21</text>
<rect x="83" y="784" width="1" height="1" fill="#c9d0d9"/>
<rect x="83" y="789" width="1" height="1" fill="#c9d0d9"/>
<rect x="83" y="794" width="1" height="1" fill="#c9d0d9"/>
<rect x="83" y="798" width="1" height="1" fill="#c9d0d9"/>
<line x1="85" y1="803.5" x2="843" y2="803.5" stroke="#e3e8ee" stroke-width="1" stroke-dasharray="1 2"/>
<rect x="81" y="803" width="3" height="1" fill="#c9d0d9"/>
<text x="81" y="806.7" font-family="'Liberation Sans', 'Noto Sans CJK SC', sans-serif" font-size="12" fill="#2f3240" text-anchor="end" font-weight="normal"  textLength="31.53" lengthAdjust="spacingAndGlyphs">32.28</text>
<rect x="83" y="808" width="1" height="1" fill="#c9d0d9"/>
<rect x="83" y="812" width="1" height="1" fill="#c9d0d9"/>
<rect x="83" y="817" width="1" height="1" fill="#c9d0d9"/>
<rect x="83" y="822" width="1" height="1" fill="#c9d0d9"/>
<line x1="85" y1="827.5" x2="843" y2="827.5" stroke="#e3e8ee" stroke-width="1" stroke-dasharray="1 2"/>
<rect x="81" y="827" width="3" height="1" fill="#c9d0d9"/>
<text x="81" y="830.7" font-family="'Liberation Sans', 'Noto Sans CJK SC', sans-serif" font-size="12" fill="#2f3240" text-anchor="end" font-weight="normal"  textLength="35.73" lengthAdjust="spacingAndGlyphs">-10.65</text>
<rect x="83" y="831" width="1" height="1" fill="#c9d0d9"/>
<rect x="83" y="836" width="1" height="1" fill="#c9d0d9"/>
<rect x="83" y="841" width="1" height="1" fill="#c9d0d9"/>
<rect x="83" y="845" width="1" height="1" fill="#c9d0d9"/>
<line x1="85" y1="850.5" x2="843" y2="850.5" stroke="#e3e8ee" stroke-width="1" stroke-dasharray="1 2"/>
<rect x="81" y="850" width="3" height="1" fill="#c9d0d9"/>
<text x="81" y="853.7" font-family="'Liberation Sans', 'Noto Sans CJK SC', sans-serif" font-size="12" fill="#2f3240" text-anchor="end" font-weight="normal"  textLength="35.73" lengthAdjust="spacingAndGlyphs">-53.58</text>
<rect x="83" y="855" width="1" height="1" fill="#c9d0d9"/>
<rect x="83" y="859" width="1" height="1" fill="#c9d0d9"/>
<rect x="83" y="864" width="1" height="1" fill="#c9d0d9"/>
<rect x="83" y="869" width="1" height="1" fill="#c9d0d9"/>
<line x1="85" y1="874.5" x2="843" y2="874.5" stroke="#e3e8ee" stroke-width="1" stroke-dasharray="1 2"/>
<rect x="81" y="874" width="3" height="1" fill="#c9d0d9"/>
<text x="81" y="877.7" font-family="'Liberation Sans', 'Noto Sans CJK SC', sans-serif" font-size="12" fill="#2f3240" text-anchor="end" font-weight="normal"  textLength="35.73" lengthAdjust="spacingAndGlyphs">-96.51</text>
<rect x="83" y="878" width="1" height="1" fill="#c9d0d9"/>
<rect x="83" y="883" width="1" height="1" fill="#c9d0d9"/>
<rect x="83" y="888" width="1" height="1" fill="#c9d0d9"/>
<rect x="83" y="892" width="1" height="1" fill="#c9d0d9"/>
<line x1="85" y1="897.5" x2="843" y2="897.5" stroke="#e3e8ee" stroke-width="1" stroke-dasharray="1 2"/>
<rect x="81" y="897" width="3" height="1" fill="#c9d0d9"/>
<text x="81" y="900.7" font-family="'Liberation Sans', 'Noto Sans CJK SC', sans-serif" font-size="12" fill="#2f3240" text-anchor="end" font-weight="normal"  textLength="42.73" lengthAdjust="spacingAndGlyphs">-139.44</text>
<rect x="83" y="902" width="1" height="1" fill="#c9d0d9"/>
<rect x="83" y="906" width="1" height="1" fill="#c9d0d9"/>
<rect x="83" y="911" width="1" height="1" fill="#c9d0d9"/>
<rect x="83" y="916" width="1" height="1" fill="#c9d0d9"/>
<rect x="89" y="822.0" width="1" height="6.8" fill="#47b97a"/>
<rect x="97" y="822.0" width="1" height="6.8" fill="#47b97a"/>
<rect x="105" y="822.0" width="1" height="9.7" fill="#47b97a"/>
<rect x="113" y="822.0" width="1" height="3.8" fill="#47b97a"/>
<rect x="121" y="821.3" width="1" height="1.2" fill="#e94c5c"/>
<rect x="129" y="812.0" width="1" height="10.5" fill="#e94c5c"/>
<rect x="137" y="806.0" width="1" height="16.5" fill="#e94c5c"/>
<rect x="145" y="803.0" width="1" height="19.5" fill="#e94c5c"/>
<rect x="153" y="773.0" width="1" height="49.5" fill="#e94c5c"/>
<rect x="161" y="777.0" width="1" height="45.5" fill="#e94c5c"/>
<rect x="169" y="789.0" width="1" height="33.5" fill="#e94c5c"/>
<rect x="177" y="759.0" width="1" height="63.5" fill="#e94c5c"/>
<rect x="185" y="741.9" width="1" height="80.6" fill="#e94c5c"/>
<rect x="193" y="771.0" width="1" height="51.5" fill="#e94c5c"/>
<rect x="201" y="809.0" width="1" height="13.5" fill="#e94c5c"/>
<rect x="209" y="816.0" width="1" height="6.5" fill="#e94c5c"/>
<rect x="217" y="812.0" width="1" height="10.5" fill="#e94c5c"/>
<rect x="225" y="817.0" width="1" height="5.5" fill="#e94c5c"/>
<rect x="233" y="815.0" width="1" height="7.5" fill="#e94c5c"/>
<rect x="241" y="822.0" width="1" height="9.7" fill="#47b97a"/>
<rect x="249" y="822.0" width="1" height="47.0" fill="#47b97a"/>
<rect x="257" y="822.0" width="1" height="53.7" fill="#47b97a"/>
<rect x="265" y="822.0" width="1" height="71.8" fill="#47b97a"/>
<rect x="273" y="822.0" width="1" height="81.0" fill="#47b97a"/>
<rect x="281" y="822.0" width="1" height="76.8" fill="#47b97a"/>
<rect x="289" y="822.0" width="1" height="50.9" fill="#47b97a"/>
<rect x="297" y="822.0" width="1" height="30.8" fill="#47b97a"/>
<rect x="305" y="822.0" width="1" height="32.0" fill="#47b97a"/>
<rect x="313" y="822.0" width="1" height="25.0" fill="#47b97a"/>
<rect x="321" y="806.0" width="1" height="16.5" fill="#e94c5c"/>
<rect x="329" y="822.0" width="1" height="7.8" fill="#47b97a"/>
<rect x="337" y="822.0" width="1" height="33.7" fill="#47b97a"/>
<rect x="345" y="822.0" width="1" height="10.8" fill="#47b97a"/>
<rect x="353" y="822.0" width="1" height="25.9" fill="#47b97a"/>
<rect x="361" y="822.0" width="1" height="46.0" fill="#47b97a"/>
<rect x="369" y="822.0" width="1" height="40.9" fill="#47b97a"/>
<rect x="377" y="822.0" width="1" height="27.0" fill="#47b97a"/>
<rect x="385" y="822.0" width="1" height="23.9" fill="#47b97a"/>
<rect x="393" y="822.0" width="1" height="12.0" fill="#47b97a"/>
<rect x="401" y="822.0" width="1" height="31.7" fill="#47b97a"/>
<rect x="409" y="822.0" width="1" height="35.9" fill="#47b97a"/>
<rect x="417" y="822.0" width="1" height="41.7" fill="#47b97a"/>
<rect x="425" y="822.0" width="1" height="53.8" fill="#47b97a"/>
<rect x="433" y="822.0" width="1" height="41.7" fill="#47b97a"/>
<rect x="441" y="822.0" width="1" height="31.7" fill="#47b97a"/>
<rect x="449" y="822.0" width="1" height="12.5" fill="#47b97a"/>
<rect x="457" y="822.0" width="1" height="7.5" fill="#47b97a"/>
<rect x="465" y="804.0" width="1" height="18.5" fill="#e94c5c"/>
<rect x="473" y="782.0" width="1" height="40.5" fill="#e94c5c"/>
<rect x="481" y="780.0" width="1" height="42.5" fill="#e94c5c"/>
<rect x="489" y="780.0" width="1" height="42.5" fill="#e94c5c"/>
<rect x="497" y="799.4" width="1" height="23.1" fill="#e94c5c"/>
<rect x="505" y="820.3" width="1" height="2.2" fill="#e94c5c"/>
<rect x="513" y="822.0" width="1" height="5.8" fill="#47b97a"/>
<rect x="521" y="822.0" width="1" height="21.7" fill="#47b97a"/>
<rect x="529" y="822.0" width="1" height="27.5" fill="#47b97a"/>
<rect x="537" y="822.0" width="1" height="24.7" fill="#47b97a"/>
<rect x="545" y="822.0" width="1" height="8.8" fill="#47b97a"/>
<rect x="553" y="822.0" width="1" height="2.4" fill="#47b97a"/>
<rect x="561" y="822.0" width="1" height="6.6" fill="#47b97a"/>
<rect x="569" y="822.0" width="1" height="23.0" fill="#47b97a"/>
<rect x="577" y="822.0" width="1" height="16.6" fill="#47b97a"/>
<rect x="585" y="822.0" width="1" height="20.3" fill="#47b97a"/>
<rect x="593" y="822.0" width="1" height="51.8" fill="#47b97a"/>
<rect x="601" y="822.0" width="1" height="70.8" fill="#47b97a"/>
<rect x="609" y="822.0" width="1" height="98.7" fill="#47b97a"/>
<rect x="617" y="822.0" width="1" height="77.7" fill="#47b97a"/>
<rect x="625" y="822.0" width="1" height="65.8" fill="#47b97a"/>
<rect x="633" y="822.0" width="1" height="36.7" fill="#47b97a"/>
<rect x="641" y="822.0" width="1" height="18.0" fill="#47b97a"/>
<polyline points="89.5,763.3 97.5,764.4 105.5,765.6 113.5,766.5 121.5,766.5 129.5,764.4 137.5,762.4 145.5,760.3 153.5,754.4 161.5,747.4 169.5,744 177.5,736.5 185.5,726.8 193.5,720.5 201.5,719.3 209.5,718.5 217.5,717.1 225.5,716 233.5,715.1 241.5,717 249.5,721.7 257.5,729.3 265.5,738 273.5,748.5 281.5,757.7 289.5,763.9 297.5,767.2 305.5,772 313.5,775.3 321.5,773.6 329.5,774.3 337.5,778.5 345.5,779.6 353.5,783.1 361.5,789 369.5,793.2 377.5,796.4 385.5,799.4 393.5,800.5 401.5,805.2 409.5,808.6 417.5,813.6 425.5,822 433.5,826.1 441.5,830 449.5,831.5 457.5,832 465.5,830.3 473.5,823.5 481.5,820.6 489.5,815.2 497.5,812.6 505.5,811.1 513.5,812.2 521.5,815.3 529.5,818.1 537.5,821.1 545.5,822.3 553.5,823.3 561.5,823.6 569.5,826 577.5,827.7 585.5,831.1 593.5,837.3 601.5,847 609.5,858.7 617.5,868.6 625.5,877 633.5,881.4 641.5,883.2" fill="none" stroke="#3dbd78" stroke-width="1" shape-rendering="crispEdges"/>
<polyline points="89.5,766.5 97.5,767.3 105.5,770.3 113.5,767 121.5,765.3 129.5,760.8 137.5,756 145.5,751 153.5,729.8 161.5,726.3 169.5,728.5 177.5,705 185.5,687.5 193.5,695.4 201.5,711.8 209.5,715.1 217.5,712.3 225.5,714.3 233.5,712.3 241.5,721.3 249.5,746 257.5,756 265.5,772 273.5,787.6 281.5,796 289.5,790 297.5,783.4 305.5,787.3 313.5,787.3 321.5,765.4 329.5,776.5 337.5,794.3 345.5,784.3 353.5,793.8 361.5,811 369.5,813.2 377.5,809 385.5,811 393.5,806.6 401.5,821.4 409.5,825 417.5,835 425.5,847 433.5,846.2 441.5,846.2 449.5,837.3 457.5,836.2 465.5,822 473.5,804.7 481.5,799.7 489.5,795.1 497.5,799.3 505.5,809.9 513.5,815.3 521.5,826.6 529.5,832 537.5,834.1 545.5,827 553.5,824.4 561.5,826.1 569.5,837.3 577.5,836.6 585.5,841.1 593.5,863.7 601.5,881 609.5,908.2 617.5,907.2 625.5,909.3 633.5,900 641.5,893" fill="none" stroke="#2081ff" stroke-width="1" shape-rendering="crispEdges"/>
<rect x="84" y="921" width="759" height="1" fill="#e4e9ee"/>
<rect x="300" y="938" width="374" height="1" fill="#e4e9ee"/>
<rect x="169" y="922" width="1" height="4" fill="#c9d0d9"/>
<rect x="497" y="922" width="1" height="4" fill="#c9d0d9"/>
<text x="170.2" y="934.4" font-family="'Liberation Sans', 'Noto Sans CJK SC', sans-serif" font-size="12.6" fill="#222" text-anchor="start" font-weight="bold"  textLength="45.11" lengthAdjust="spacingAndGlyphs">2026/01</text>
<text x="498.8" y="934.2" font-family="'Liberation Sans', 'Noto Sans CJK SC', sans-serif" font-size="12.4" fill="#222" text-anchor="start" font-weight="bold"  textLength="44.24" lengthAdjust="spacingAndGlyphs">2026/03</text>
<rect x="300.5" y="921.5" width="109.5" height="17" fill="#fdfdfd" stroke="#e6ebf1" stroke-width="1"/>
<text x="301.5" y="933.8" font-family="'Liberation Sans', 'Noto Sans CJK SC', sans-serif" font-size="13" fill="#ff7a00" text-anchor="start" font-weight="normal" >2026/01/27 星期二</text>
<rect x="14" y="921" width="70" height="20" fill="#fff"/>
<rect x="14" y="921" width="70" height="1" fill="#cdd4dd"/>
<rect x="83" y="921" width="1" height="20" fill="#cdd4dd"/>
<rect x="14" y="940" width="70" height="1" fill="#cdd4dd"/>
<text x="27.5" y="935.5" font-family="'Noto Sans CJK SC', 'Liberation Sans', sans-serif" font-size="13" fill="#ff7a00" text-anchor="start" font-weight="bold" >日线</text>
<path d="M58.5 936 L62.7 928 L66.9 936 Z" fill="#ff7a00"/>
<rect x="14" y="941" width="829" height="1" fill="#d5dae2"/>
<rect x="14" y="956" width="829" height="1" fill="#edf0f4"/>
<rect x="0" y="956" width="14" height="1" fill="#d0d5dd"/>
<rect x="14" y="921" width="1" height="20" fill="#dfe4ea"/>
<rect x="14" y="942" width="39" height="14" fill="#ff6600"/>
<rect x="93" y="942" width="1" height="15" fill="#d5dae2"/>
<rect x="151" y="942" width="1" height="15" fill="#d5dae2"/>
<rect x="179" y="942" width="1" height="15" fill="#d5dae2"/>
<rect x="219" y="942" width="1" height="15" fill="#d5dae2"/>
<rect x="259" y="942" width="1" height="15" fill="#d5dae2"/>
<rect x="293" y="942" width="1" height="15" fill="#d5dae2"/>
<rect x="333" y="942" width="1" height="15" fill="#d5dae2"/>
<rect x="367" y="942" width="1" height="15" fill="#d5dae2"/>
<rect x="401" y="942" width="1" height="15" fill="#d5dae2"/>
<rect x="441" y="942" width="1" height="15" fill="#d5dae2"/>
<rect x="475" y="942" width="1" height="15" fill="#d5dae2"/>
<rect x="503" y="942" width="1" height="15" fill="#d5dae2"/>
<rect x="539" y="942" width="1" height="15" fill="#d5dae2"/>
<rect x="576" y="942" width="1" height="15" fill="#d5dae2"/>
<text x="21" y="953.5" font-family="'Noto Sans CJK SC', 'Liberation Sans', sans-serif" font-size="12.5" fill="#fff" text-anchor="start" font-weight="normal" >指标</text>
<text x="62.3" y="953.5" font-family="'Noto Sans CJK SC', 'Liberation Sans', sans-serif" font-size="12.5" fill="#222" text-anchor="start" font-weight="normal" >模板</text>
<text x="101.5" y="953.5" font-family="'Liberation Mono', 'Noto Sans CJK SC', monospace" font-size="12.5" fill="#ff7a00" text-anchor="start" font-weight="normal"  textLength="42.5" lengthAdjust="spacingAndGlyphs">VIP指标</text>
<text x="159.5" y="953.6" font-family="'Liberation Mono', 'Noto Sans CJK SC', monospace" font-size="13.5" fill="#222" text-anchor="start" font-weight="normal"  textLength="11.7" lengthAdjust="spacingAndGlyphs">MA</text>
<text x="186.5" y="953.6" font-family="'Liberation Mono', 'Noto Sans CJK SC', monospace" font-size="13.5" fill="#222" text-anchor="start" font-weight="normal"  textLength="23.7" lengthAdjust="spacingAndGlyphs">MACD</text>
<text x="227.5" y="953.6" font-family="'Liberation Mono', 'Noto Sans CJK SC', monospace" font-size="13.5" fill="#222" text-anchor="start" font-weight="normal"  textLength="23.7" lengthAdjust="spacingAndGlyphs">BOLL</text>
<text x="267.5" y="953.6" font-family="'Liberation Mono', 'Noto Sans CJK SC', monospace" font-size="13.5" fill="#222" text-anchor="start" font-weight="normal"  textLength="17.7" lengthAdjust="spacingAndGlyphs">VOL</text>
<text x="302" y="953.6" font-family="'Liberation Mono', 'Noto Sans CJK SC', monospace" font-size="13.5" fill="#222" text-anchor="start" font-weight="normal"  textLength="23.7" lengthAdjust="spacingAndGlyphs">BIAS</text>
<text x="341" y="953.6" font-family="'Liberation Mono', 'Noto Sans CJK SC', monospace" font-size="13.5" fill="#222" text-anchor="start" font-weight="normal"  textLength="17.7" lengthAdjust="spacingAndGlyphs">CCI</text>
<text x="375" y="953.6" font-family="'Liberation Mono', 'Noto Sans CJK SC', monospace" font-size="13.5" fill="#222" text-anchor="start" font-weight="normal"  textLength="17.7" lengthAdjust="spacingAndGlyphs">KDJ</text>
<text x="408.5" y="953.6" font-family="'Liberation Mono', 'Noto Sans CJK SC', monospace" font-size="13.5" fill="#222" text-anchor="start" font-weight="normal"  textLength="17.7" lengthAdjust="spacingAndGlyphs">LW&amp;</text>
<text x="449" y="953.6" font-family="'Liberation Mono', 'Noto Sans CJK SC', monospace" font-size="13.5" fill="#222" text-anchor="start" font-weight="normal"  textLength="17.7" lengthAdjust="spacingAndGlyphs">RSI</text>
<text x="483.5" y="953.6" font-family="'Liberation Mono', 'Noto Sans CJK SC', monospace" font-size="13.5" fill="#222" text-anchor="start" font-weight="normal"  textLength="11.7" lengthAdjust="spacingAndGlyphs">CR</text>
<text x="510.5" y="953.6" font-family="'Liberation Mono', 'Noto Sans CJK SC', monospace" font-size="13.5" fill="#222" text-anchor="start" font-weight="normal"  textLength="17.7" lengthAdjust="spacingAndGlyphs">PSY</text>
<text x="545" y="953.5" font-family="'Noto Sans CJK SC', 'Liberation Sans', sans-serif" font-size="12.5" fill="#222" text-anchor="start" font-weight="normal" >设置</text>
<defs><filter id="ws" x="-10%" y="-10%" width="130%" height="140%"><feDropShadow dx="1" dy="1" stdDeviation="0.3" flood-color="#a88c70" flood-opacity="0.8"/></filter></defs>
<text x="713.2 735.3 756.6 776.6 796.7" y="932" font-family="Liberation Sans, sans-serif" font-size="30" fill="#d5e4f8" filter="url(#ws)">FX678</text>
</svg>
</body></html>
